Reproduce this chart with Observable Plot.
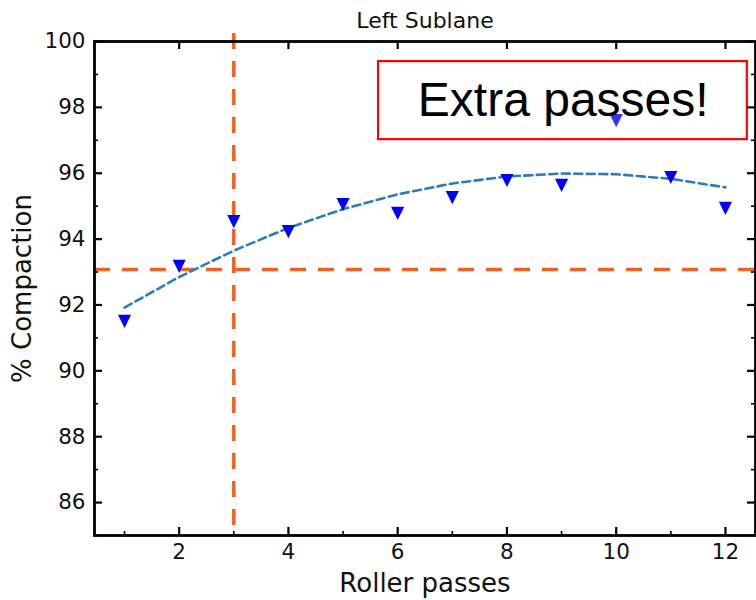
<!DOCTYPE html>
<html>
<head>
<meta charset="utf-8">
<script src="https://cdn.jsdelivr.net/npm/d3@7"></script>
<script src="https://cdn.jsdelivr.net/npm/@observablehq/plot@0.6"></script>
<style>
  html, body { margin: 0; padding: 0; background: #fff; }
  #chart { width: 756px; height: 600px; }
</style>
</head>
<body>
<div id="chart"></div>
<script>
// ---- data ----
const passes = [1, 2, 3, 4, 5, 6, 7, 8, 9, 10, 11, 12];
const compaction = [91.5, 93.17, 94.53, 94.23, 95.05, 94.78, 95.26, 95.78, 95.63, 97.6, 95.87, 94.93];
const fitValues = [91.92, 92.85, 93.65, 94.34, 94.91, 95.36, 95.69, 95.90, 95.99, 95.97, 95.83, 95.57];
const targetCompaction = [93.08];
const targetPasses = [3];
const xMajorTicks = [2, 4, 6, 8, 10, 12];
const xMinorTicks = [1, 3, 5, 7, 9, 11];
const yMajorTicks = [86, 88, 90, 92, 94, 96, 98, 100];
const yMinorTicks = [85, 87, 89, 91, 93, 95, 97, 99];
const titleText = ["Left Sublane"];
const annotationText = ["Extra passes!"];
const annotationBox = [{x1: 5.65, x2: 12.40, y1: 97.02, y2: 99.39, xc: 9.03, yc: 98.2}];

const points = passes.map((p, i) => ({x: p, y: compaction[i]}));
const fit = passes.map((p, i) => ({x: p, y: fitValues[i]}));

const downTriangle = {
  draw(context, size) {
    const r = Math.sqrt(size / Math.PI);
    context.moveTo(-r, -r);
    context.lineTo(r, -r);
    context.lineTo(0, r);
    context.closePath();
  }
};

const W = 756, H = 600;
const mL = 94, mR = 1, mT = 41, mB = 65;
const frameW = W - mL - mR, frameH = H - mT - mB;
const orange = "#f2621f";

const plot = Plot.plot({
  width: W,
  height: H,
  marginLeft: mL,
  marginRight: mR,
  marginTop: mT,
  marginBottom: mB,
  style: {fontFamily: "'DejaVu Sans', sans-serif", background: "#fff", color: "#000"},
  x: {domain: [0.45, 12.55], axis: null},
  y: {domain: [85, 100], axis: null},
  marks: [
    // reference lines
    Plot.ruleY(targetCompaction, {y: d => d, stroke: orange, strokeWidth: 3.5, strokeDasharray: "16,12"}),
    Plot.ruleX(targetPasses, {x: d => d, y1: 100.24, y2: 85, stroke: orange, strokeWidth: 3.5, strokeDasharray: "16,12", clip: false}),
    // fit
    Plot.line(fit, {x: "x", y: "y", stroke: "#2a7cba", strokeWidth: 2.6, strokeDasharray: "8,4.5"}),
    // data
    Plot.dot(points, {x: "x", y: "y", symbol: downTriangle, r: 6.6, fill: "#0000ff", stroke: "none"}),
    // annotation box
    Plot.rect(annotationBox, {x1: "x1", x2: "x2", y1: "y1", y2: "y2", fill: "#fff", fillOpacity: 0.2, stroke: "#ff0000", strokeWidth: 2.2}),
    Plot.text(annotationBox, {x: "xc", y: "yc", text: () => annotationText[0], fontSize: 48, fontFamily: "'Liberation Sans', Arial, sans-serif", fill: "#000", textAnchor: "middle", lineAnchor: "middle"}),
    // ticks (inward)
    Plot.ruleX(xMajorTicks, {x: d => d, insetTop: frameH - 8, stroke: "#000", strokeWidth: 2.2}),
    Plot.ruleX(xMinorTicks, {x: d => d, insetTop: frameH - 4, stroke: "#000", strokeWidth: 1.6}),
    Plot.ruleX(xMajorTicks, {x: d => d, insetBottom: frameH - 8, stroke: "#000", strokeWidth: 2.2}),
    Plot.ruleY(yMajorTicks, {y: d => d, insetRight: frameW - 8, stroke: "#000", strokeWidth: 2.2}),
    Plot.ruleY(yMinorTicks, {y: d => d, insetRight: frameW - 4, stroke: "#000", strokeWidth: 1.6}),
    Plot.ruleY(yMajorTicks, {y: d => d, insetLeft: frameW - 8, stroke: "#000", strokeWidth: 2.2}),
    Plot.ruleY(yMinorTicks, {y: d => d, insetLeft: frameW - 4, stroke: "#000", strokeWidth: 1.6}),
    Plot.frame({stroke: "#000", strokeWidth: 2.8}),
    // tick labels
    Plot.text(xMajorTicks, {x: d => d, frameAnchor: "bottom", text: d => String(d), dy: 17, lineAnchor: "middle", fontSize: 21.5, fill: "#111"}),
    Plot.text(yMajorTicks, {y: d => d, frameAnchor: "left", text: d => String(d), dx: -9, textAnchor: "end", lineAnchor: "middle", fontSize: 21.5, fill: "#111"}),
    // axis labels & title
    Plot.text(["Roller passes"], {frameAnchor: "bottom", text: d => d, dy: 48, lineAnchor: "middle", fontSize: 26, fill: "#111"}),
    Plot.text(["% Compaction"], {frameAnchor: "left", text: d => d, dx: -72, dy: 0, rotate: -90, textAnchor: "middle", lineAnchor: "middle", fontSize: 26, fill: "#111"}),
    Plot.text(titleText, {frameAnchor: "top", text: d => d, dy: -21, lineAnchor: "middle", fontSize: 22, fill: "#111"})
  ]
});

document.getElementById("chart").appendChild(plot);
</script>
</body>
</html>
